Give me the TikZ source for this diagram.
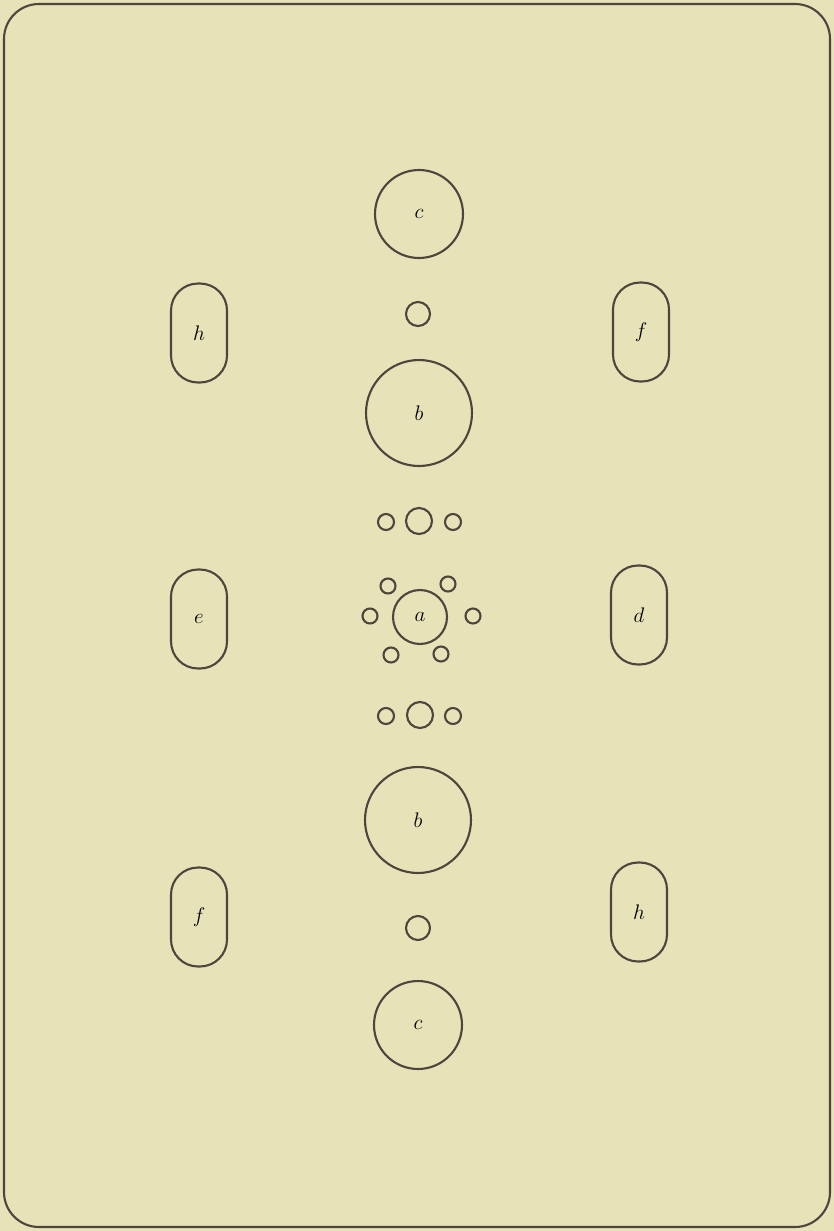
\documentclass[tikz,border=0pt]{standalone}
\usepackage{tikz}

\definecolor{paper}{RGB}{231,226,184}
\definecolor{ink}{RGB}{78,70,62}

\begin{document}
\begin{tikzpicture}[x=0.02cm, y=-0.02cm, line width=1.2pt,
    disc/.style={draw=ink, circle, inner sep=0pt, font=\large},
    slab/.style={draw=ink, rounded corners=0.54cm, inner sep=0pt, minimum width=1.12cm, minimum height=1.98cm, font=\large}]
    \fill[paper] (0,0) rectangle (834,1231);
    \draw[ink, rounded corners=0.7cm] (4,4) rectangle (830,1227);

    % central column
    \node[disc, minimum size=1.76cm] (ctop) at (419,214) {$c$};
    \node[disc, minimum size=0.48cm] (stop) at (418,314) {};
    \node[disc, minimum size=2.12cm] (btop) at (419,413) {$b$};
    \node[disc, minimum size=0.32cm] (rtl) at (386,522) {};
    \node[disc, minimum size=0.52cm] (rtm) at (419,521) {};
    \node[disc, minimum size=0.32cm] (rtr) at (453,522) {};
    \node[disc, minimum size=1.08cm] (a) at (420,617) {$a$};
    \node[disc, minimum size=0.30cm] (a1) at (388,586) {};
    \node[disc, minimum size=0.30cm] (a2) at (448,584) {};
    \node[disc, minimum size=0.30cm] (a3) at (370,616) {};
    \node[disc, minimum size=0.30cm] (a4) at (473,616) {};
    \node[disc, minimum size=0.30cm] (a5) at (391,655) {};
    \node[disc, minimum size=0.30cm] (a6) at (441,654) {};
    \node[disc, minimum size=0.32cm] (rbl) at (386,716) {};
    \node[disc, minimum size=0.52cm] (rbm) at (420,715) {};
    \node[disc, minimum size=0.32cm] (rbr) at (453,716) {};
    \node[disc, minimum size=2.12cm] (bbot) at (418,820) {$b$};
    \node[disc, minimum size=0.48cm] (sbot) at (418,928) {};
    \node[disc, minimum size=1.76cm] (cbot) at (418,1025) {$c$};

    % side pieces
    \node[slab] (htop) at (199,333) {$h$};
    \node[slab] (ftop) at (641,332) {$f$};
    \node[slab] (e) at (199,619) {$e$};
    \node[slab] (d) at (639,615) {$d$};
    \node[slab] (fbot) at (199,917) {$f$};
    \node[slab] (hbot) at (639,912) {$h$};
\end{tikzpicture}
\end{document}
